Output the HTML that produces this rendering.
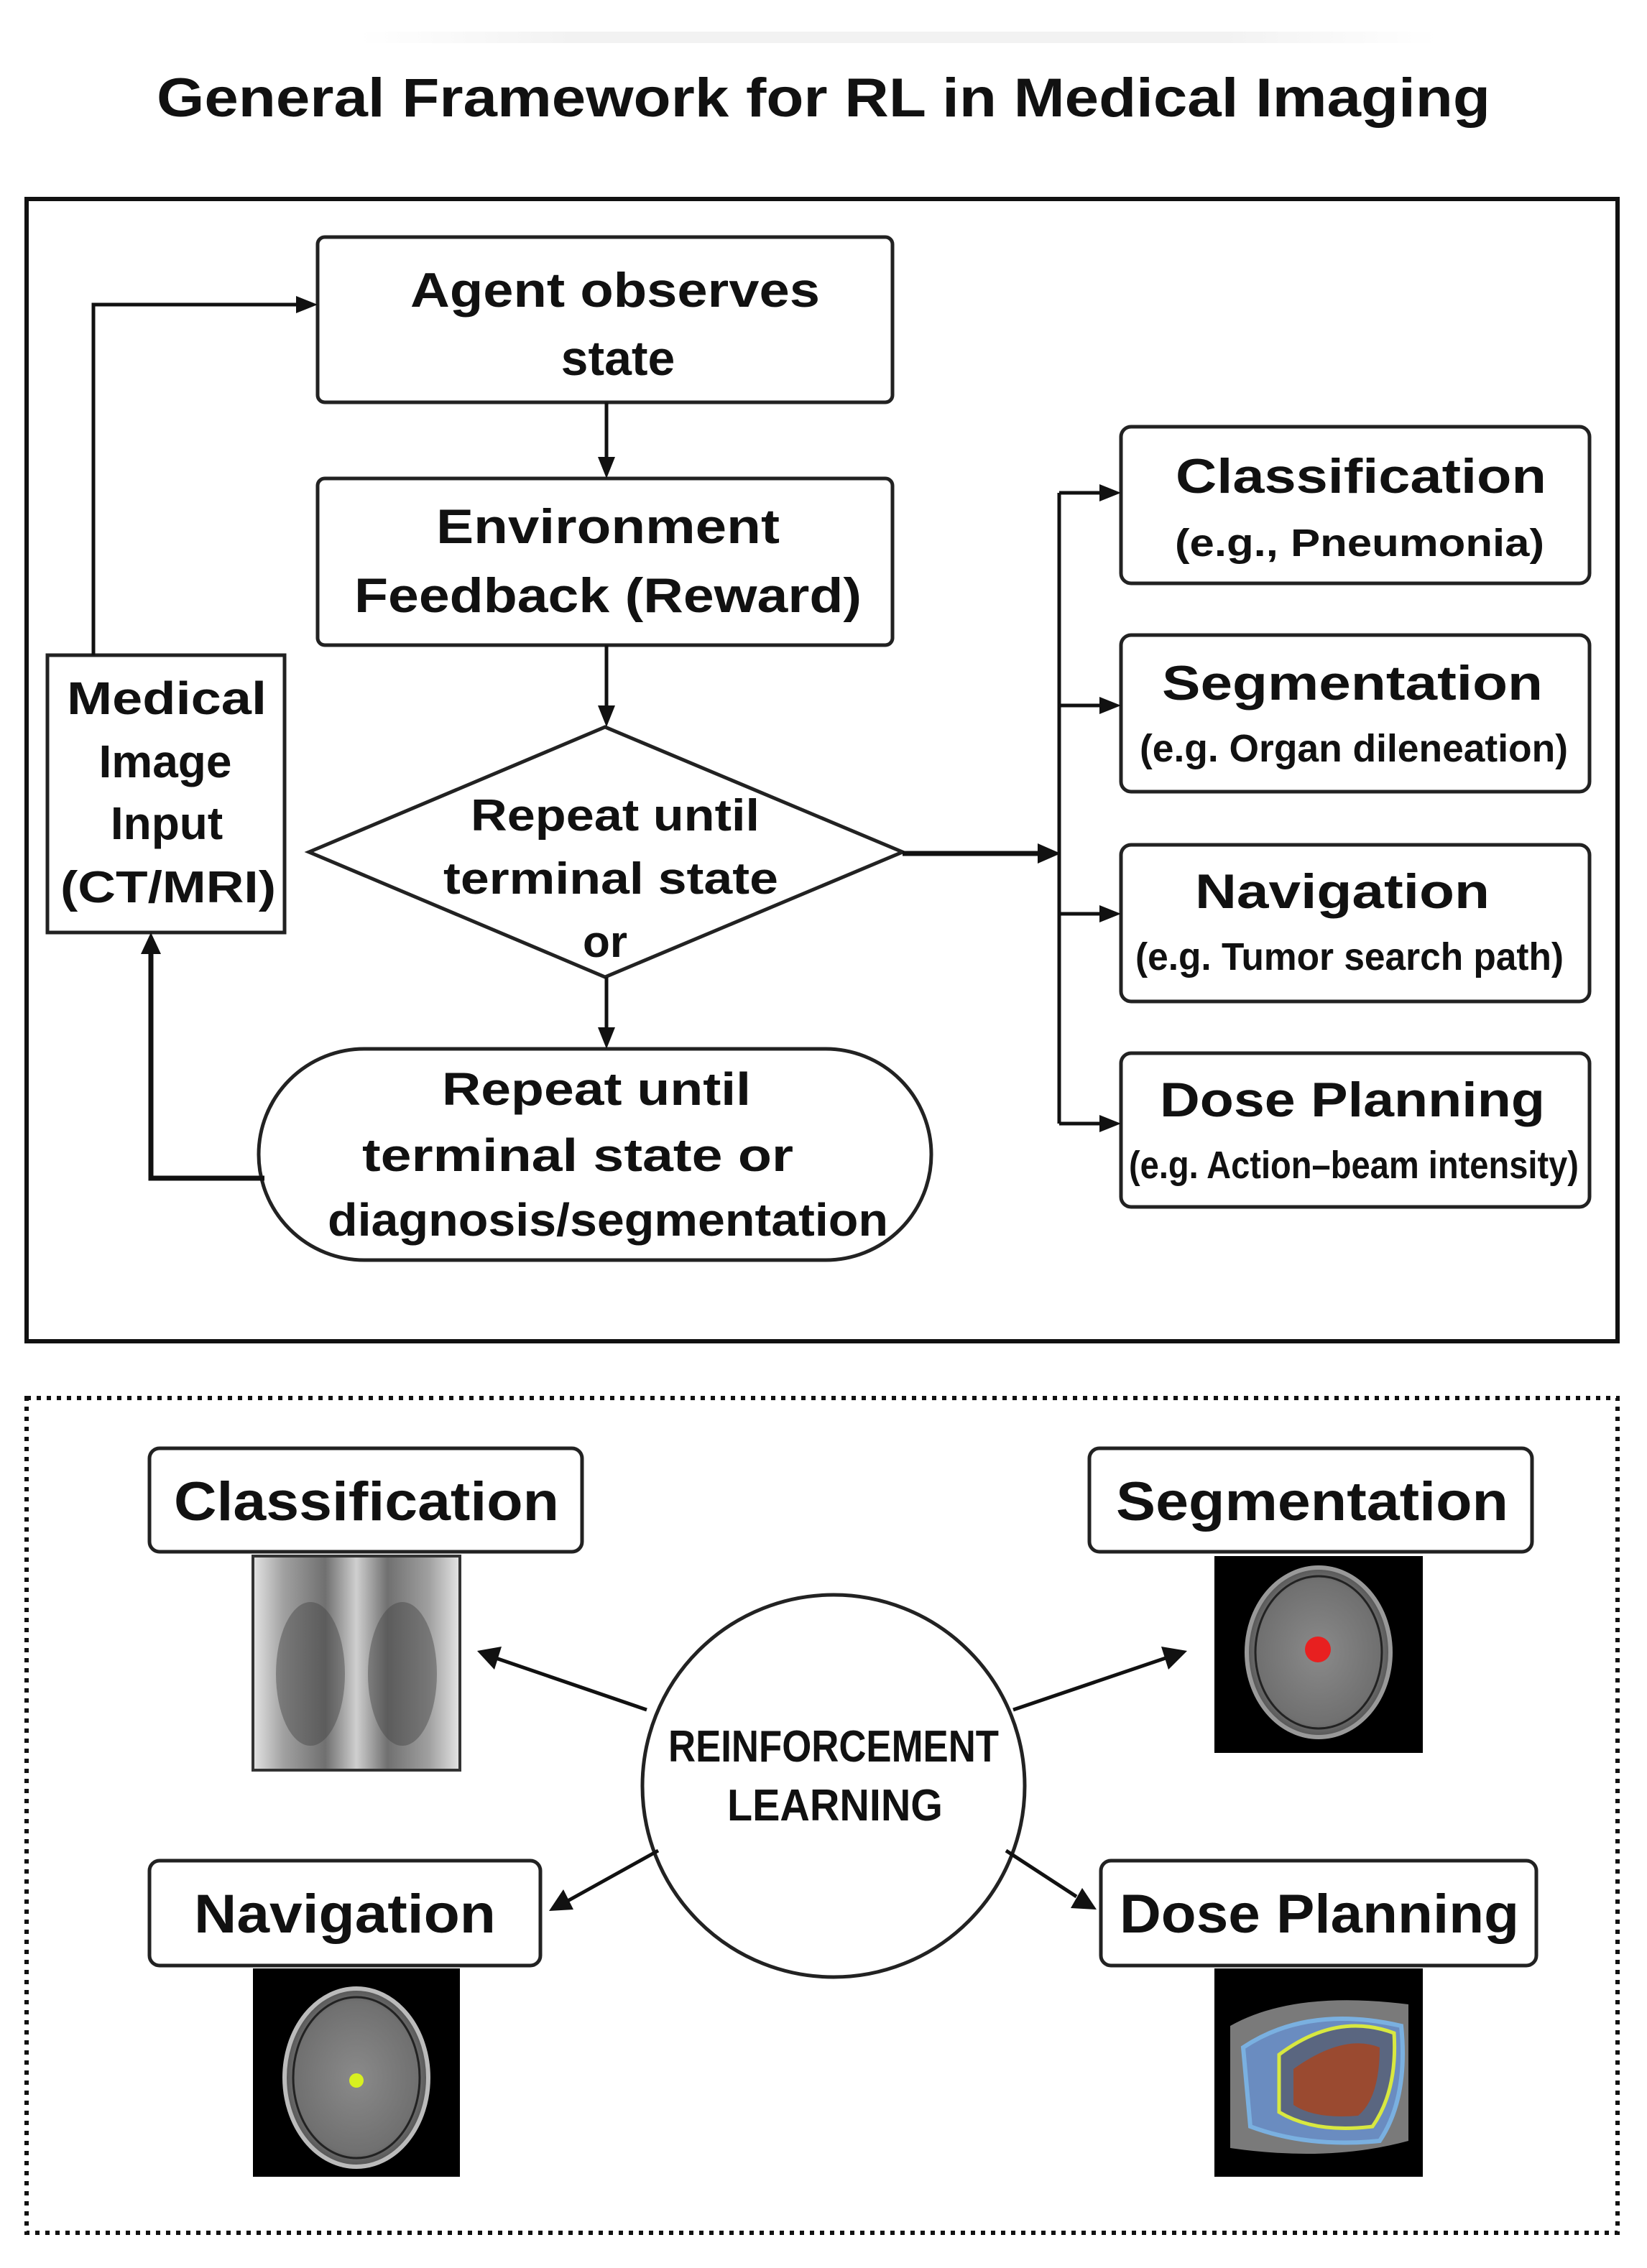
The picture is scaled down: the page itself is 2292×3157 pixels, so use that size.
<!DOCTYPE html>
<html><head><meta charset="utf-8"><style>
html,body{margin:0;padding:0;background:#fff;}
svg{display:block;}
text{font-family:"Liberation Sans",sans-serif;fill:#111;}
</style></head><body>
<svg width="2292" height="3157" viewBox="0 0 2292 3157" xmlns="http://www.w3.org/2000/svg">
<defs>
<radialGradient id="brain" cx="50%" cy="50%" r="50%"><stop offset="0" stop-color="#8a8a8a"/><stop offset="0.85" stop-color="#707070"/><stop offset="1" stop-color="#555"/></radialGradient>
<linearGradient id="xr" x1="0" x2="1"><stop offset="0" stop-color="#e4e4e4"/><stop offset="0.15" stop-color="#a0a0a0"/><stop offset="0.35" stop-color="#707070"/><stop offset="0.5" stop-color="#cfcfcf"/><stop offset="0.65" stop-color="#707070"/><stop offset="0.85" stop-color="#a0a0a0"/><stop offset="1" stop-color="#e4e4e4"/></linearGradient>
<linearGradient id="topband" x1="0" x2="1"><stop offset="0" stop-color="#fff"/><stop offset="0.2" stop-color="#f2f2f2"/><stop offset="0.8" stop-color="#f2f2f2"/><stop offset="1" stop-color="#fff"/></linearGradient>
</defs>
<rect x="500" y="44" width="1500" height="16" fill="url(#topband)"/>
<text x="1146" y="162" text-anchor="middle" font-size="76" font-weight="bold" textLength="1856" lengthAdjust="spacingAndGlyphs">General Framework for RL in Medical Imaging</text>

<rect x="37" y="277" width="2214" height="1590" fill="none" stroke="#111" stroke-width="6"/>

<g fill="#fff" stroke="#222" stroke-width="5">
<rect x="442" y="330" width="800" height="230" rx="10"/>
<rect x="442" y="666" width="800" height="232" rx="10"/>
<polygon points="430,1186 842,1012 1256,1186 842,1360"/>
<rect x="360" y="1460" width="936" height="294" rx="147"/>
<rect x="66" y="912" width="330" height="386"/>
<rect x="1560" y="594" width="652" height="218" rx="14"/>
<rect x="1560" y="884" width="652" height="218" rx="14"/>
<rect x="1560" y="1176" width="652" height="218" rx="14"/>
<rect x="1560" y="1466" width="652" height="214" rx="14"/>
</g>

<g stroke="#111" stroke-width="5" fill="none">
<polyline points="130,912 130,424 420,424"/>
<line x1="844" y1="560" x2="844" y2="640"/>
<line x1="844" y1="898" x2="844" y2="988"/>
<line x1="844" y1="1360" x2="844" y2="1436"/>
<line x1="1256" y1="1188" x2="1450" y2="1188" stroke-width="7"/>
<line x1="1474" y1="686" x2="1474" y2="1564"/>
<line x1="1474" y1="686" x2="1536" y2="686"/>
<line x1="1474" y1="982" x2="1536" y2="982"/>
<line x1="1474" y1="1272" x2="1536" y2="1272"/>
<line x1="1474" y1="1564" x2="1536" y2="1564"/>
<polyline points="368,1640 210,1640 210,1320" stroke-width="7"/>
</g>
<g fill="#111">
<polygon points="442,424 412,412 412,436"/>
<polygon points="844,666 832,636 856,636"/>
<polygon points="844,1012 832,982 856,982"/>
<polygon points="844,1460 832,1430 856,1430"/>
<polygon points="1476,1188 1444,1174 1444,1202"/>
<polygon points="1560,686 1530,674 1530,698"/>
<polygon points="1560,982 1530,970 1530,994"/>
<polygon points="1560,1272 1530,1260 1530,1284"/>
<polygon points="1560,1564 1530,1552 1530,1576"/>
<polygon points="210,1298 196,1328 224,1328"/>
</g>

<g font-weight="bold" text-anchor="middle" font-size="68">
<text x="856" y="427" textLength="570" lengthAdjust="spacingAndGlyphs">Agent observes</text>
<text x="860" y="522">state</text>
<text x="846" y="756" textLength="478" lengthAdjust="spacingAndGlyphs">Environment</text>
<text x="846" y="852" textLength="706" lengthAdjust="spacingAndGlyphs">Feedback (Reward)</text>
<text x="856" y="1156" font-size="62" textLength="402" lengthAdjust="spacingAndGlyphs">Repeat until</text>
<text x="850" y="1244" font-size="62" textLength="466" lengthAdjust="spacingAndGlyphs">terminal state</text>
<text x="842" y="1332" font-size="62">or</text>
<text x="830" y="1538" font-size="64" textLength="430" lengthAdjust="spacingAndGlyphs">Repeat until</text>
<text x="804" y="1630" font-size="64" textLength="600" lengthAdjust="spacingAndGlyphs">terminal state or</text>
<text x="846" y="1720" font-size="64" textLength="780" lengthAdjust="spacingAndGlyphs">diagnosis/segmentation</text>
<text x="232" y="994" font-size="64" textLength="278" lengthAdjust="spacingAndGlyphs">Medical</text>
<text x="230" y="1082" font-size="64">Image</text>
<text x="232" y="1168" font-size="64">Input</text>
<text x="234" y="1256" font-size="62" textLength="300" lengthAdjust="spacingAndGlyphs">(CT/MRI)</text>
<text x="1894" y="686" textLength="516" lengthAdjust="spacingAndGlyphs">Classification</text>
<text x="1882" y="974" textLength="530" lengthAdjust="spacingAndGlyphs">Segmentation</text>
<text x="1868" y="1264" textLength="410" lengthAdjust="spacingAndGlyphs">Navigation</text>
<text x="1882" y="1554" textLength="536" lengthAdjust="spacingAndGlyphs">Dose Planning</text>
</g>
<g text-anchor="middle" font-size="54" font-weight="bold">
<text x="1892" y="774" textLength="514" lengthAdjust="spacingAndGlyphs">(e.g., Pneumonia)</text>
<text x="1884" y="1060" textLength="596" lengthAdjust="spacingAndGlyphs">(e.g. Organ dileneation)</text>
<text x="1878" y="1350" textLength="596" lengthAdjust="spacingAndGlyphs">(e.g. Tumor search path)</text>
<text x="1884" y="1640" textLength="626" lengthAdjust="spacingAndGlyphs">(e.g. Action–beam intensity)</text>
</g>

<rect x="37" y="1946" width="2214" height="1162" fill="none" stroke="#111" stroke-width="6" stroke-dasharray="6,8"/>

<circle cx="1160" cy="2486" r="266" fill="#fff" stroke="#222" stroke-width="5"/>
<text x="1160" y="2452" text-anchor="middle" font-size="62" font-weight="bold" textLength="460" lengthAdjust="spacingAndGlyphs">REINFORCEMENT</text>
<text x="1162" y="2534" text-anchor="middle" font-size="62" font-weight="bold" textLength="300" lengthAdjust="spacingAndGlyphs">LEARNING</text>

<g stroke="#111" stroke-width="5">
<line x1="900" y1="2380" x2="690" y2="2308"/>
<line x1="1410" y1="2380" x2="1622" y2="2308"/>
<line x1="916" y1="2576" x2="790" y2="2646"/>
<line x1="1400" y1="2576" x2="1498" y2="2640"/>
</g>
<g fill="#111">
<polygon points="664,2298 698,2292 688,2324" />
<polygon points="1652,2298 1616,2292 1626,2324"/>
<polygon points="764,2660 784,2630 798,2658"/>
<polygon points="1526,2658 1490,2656 1506,2628"/>
</g>

<g fill="#fff" stroke="#222" stroke-width="5">
<rect x="208" y="2016" width="602" height="144" rx="14"/>
<rect x="1516" y="2016" width="616" height="144" rx="14"/>
<rect x="208" y="2590" width="544" height="146" rx="14"/>
<rect x="1532" y="2590" width="606" height="146" rx="14"/>
</g>
<g font-weight="bold" text-anchor="middle" font-size="76">
<text x="510" y="2116" textLength="536" lengthAdjust="spacingAndGlyphs">Classification</text>
<text x="1826" y="2116" textLength="546" lengthAdjust="spacingAndGlyphs">Segmentation</text>
<text x="480" y="2690" textLength="420" lengthAdjust="spacingAndGlyphs">Navigation</text>
<text x="1836" y="2690" textLength="556" lengthAdjust="spacingAndGlyphs">Dose Planning</text>
</g>

<rect x="352" y="2166" width="288" height="298" fill="url(#xr)" stroke="#333" stroke-width="4"/>
<ellipse cx="432" cy="2330" rx="48" ry="100" fill="#444" opacity="0.45"/>
<ellipse cx="560" cy="2330" rx="48" ry="100" fill="#444" opacity="0.45"/>

<rect x="1690" y="2166" width="290" height="274" fill="#000"/>
<ellipse cx="1835" cy="2300" rx="100" ry="118" fill="url(#brain)" stroke="#999" stroke-width="6"/>
<ellipse cx="1835" cy="2300" rx="88" ry="106" fill="none" stroke="#222" stroke-width="3"/>
<circle cx="1834" cy="2296" r="18" fill="#e82020"/>

<rect x="352" y="2740" width="288" height="290" fill="#000"/>
<ellipse cx="496" cy="2892" rx="100" ry="124" fill="url(#brain)" stroke="#bbb" stroke-width="6"/>
<ellipse cx="496" cy="2892" rx="88" ry="112" fill="none" stroke="#222" stroke-width="3"/>
<circle cx="496" cy="2896" r="10" fill="#d8f020"/>

<rect x="1690" y="2740" width="290" height="290" fill="#000"/>
<path d="M1712 2820 Q1800 2770 1960 2790 L1960 2980 Q1850 3010 1712 2990 Z" fill="#7a7a7a"/>
<path d="M1730 2850 Q1820 2790 1950 2820 Q1960 2920 1920 2980 Q1820 2990 1740 2960 Z" fill="#6a8cc0" stroke="#7ab0e0" stroke-width="6"/>
<path d="M1780 2860 Q1860 2800 1940 2830 Q1945 2910 1910 2960 Q1830 2970 1780 2940 Z" fill="#5a6680" stroke="#d8e840" stroke-width="5"/>
<path d="M1800 2880 Q1870 2830 1920 2850 Q1920 2920 1890 2945 Q1830 2950 1800 2930 Z" fill="#9a4a30"/>
</svg>
</body></html>
